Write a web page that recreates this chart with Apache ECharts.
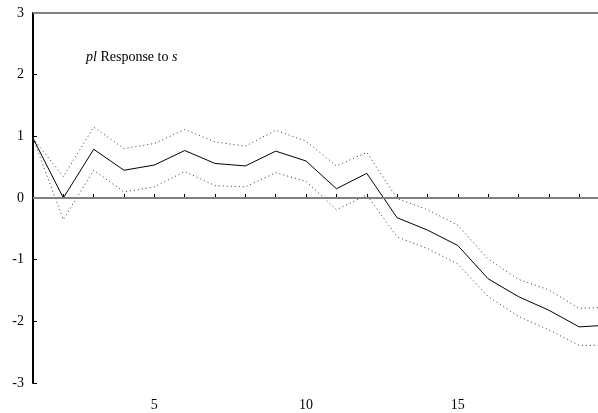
<!DOCTYPE html>
<html>
<head>
<meta charset="utf-8">
<script src="https://cdn.jsdelivr.net/npm/echarts@6/dist/echarts.min.js"></script>
<style>
  html, body { margin: 0; padding: 0; background: #fff; }
  #chart { width: 598px; height: 413px; }
</style>
</head>
<body>
<div id="chart"></div>
<script>
// horizon steps
const steps = [1, 2, 3, 4, 5, 6, 7, 8, 9, 10, 11, 12, 13, 14, 15, 16, 17, 18, 19, 20];
// impulse response of pl to s
const response = [0.97, 0.0, 0.79, 0.45, 0.535, 0.77, 0.56, 0.52, 0.76, 0.6, 0.15, 0.4, -0.32, -0.52, -0.77, -1.31, -1.6, -1.82, -2.09, -2.06];
// confidence bands
const upperBand = [0.97, 0.345, 1.15, 0.8, 0.885, 1.11, 0.91, 0.84, 1.1, 0.92, 0.52, 0.74, -0.01, -0.19, -0.44, -0.99, -1.32, -1.49, -1.79, -1.77];
const lowerBand = [0.97, -0.35, 0.45, 0.1, 0.18, 0.43, 0.2, 0.18, 0.41, 0.27, -0.19, 0.05, -0.63, -0.82, -1.07, -1.6, -1.92, -2.14, -2.39, -2.39];
const xLabels = [5, 10, 15];

const pair = (ys) => steps.map((x, i) => [x, ys[i]]);

const chartDom = document.getElementById("chart");
const myChart = echarts.init(chartDom);

const serif = "'Liberation Serif', 'DejaVu Serif', serif";

const option = {
  animation: false,
  textStyle: { fontFamily: serif },
  title: {
    text: "{i|pl} Response to {i|s}",
    left: 81,
    top: 45,
    textStyle: {
      fontFamily: serif,
      fontSize: 14,
      fontWeight: "normal",
      color: "#000",
      rich: {
        i: { fontFamily: serif, fontSize: 14, fontStyle: "italic", color: "#000" },
      },
    },
  },
  grid: {
    left: 33,
    right: 0,
    top: 13,
    bottom: 30,
    containLabel: false,
  },
  xAxis: {
    type: "value",
    min: 1,
    max: 19.62,
    interval: 1,
    axisLine: { lineStyle: { color: "#000", width: 2 } },
    axisTick: { inside: true, length: 4, lineStyle: { color: "#000", width: 1 } },
    axisLabel: {
      color: "#000",
      fontFamily: serif,
      fontSize: 14,
      margin: 15,
      showMaxLabel: false,
      formatter: (v) => (xLabels.includes(v) ? String(v) : ""),
    },
    splitLine: { show: false },
  },
  yAxis: {
    type: "value",
    min: -3,
    max: 3,
    interval: 1,
    axisLine: { show: true, lineStyle: { color: "#000", width: 2 } },
    axisTick: { show: true, inside: true, length: 4, lineStyle: { color: "#000", width: 1 } },
    axisLabel: { color: "#000", fontFamily: serif, fontSize: 14, margin: 9 },
    splitLine: { show: false },
  },
  series: [
    {
      name: "response",
      type: "line",
      data: pair(response),
      symbol: "none",
      clip: true,
      lineStyle: { color: "#000", width: 1 },
      z: 3,
      markLine: {
        silent: true,
        symbol: "none",
        label: { show: false },
        lineStyle: { color: "#808080", width: 2, type: "solid" },
        data: [{ yAxis: 0 }, { yAxis: 3 }],
      },
    },
    {
      name: "upper",
      type: "line",
      data: pair(upperBand),
      symbol: "none",
      clip: true,
      lineStyle: { color: "#333", width: 1, type: [1, 3] },
    },
    {
      name: "lower",
      type: "line",
      data: pair(lowerBand),
      symbol: "none",
      clip: true,
      lineStyle: { color: "#333", width: 1, type: [1, 3] },
    },
  ],
};

myChart.setOption(option);

window.addEventListener("resize", function () {
  myChart.resize();
});
</script>
</body>
</html>
